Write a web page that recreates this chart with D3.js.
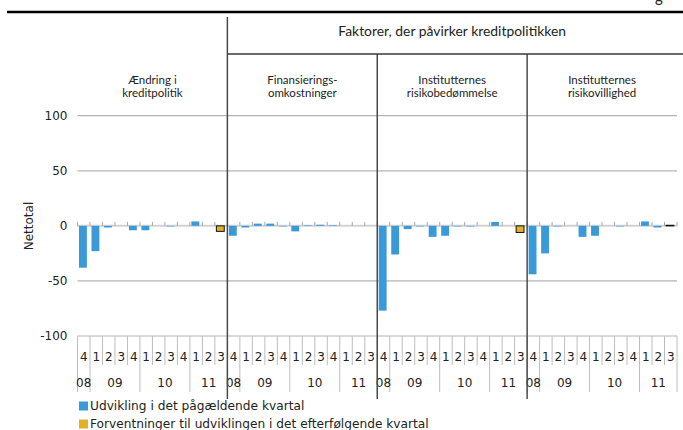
<!DOCTYPE html>
<html>
<head>
<meta charset="utf-8">
<script src="https://cdn.jsdelivr.net/npm/d3@7"></script>
<style>
  html, body { margin: 0; padding: 0; background: #fff; }
  svg { display: block; }
</style>
</head>
<body>
<div id="chart"></div>
<script>
// ---------------- DATA ----------------
const panelTitles = [
  ["Ændring i", "kreditpolitik"],
  ["Finansierings-", "omkostninger"],
  ["Institutternes", "risikobedømmelse"],
  ["Institutternes", "risikovillighed"]
];
const headerTitle = "Faktorer, der påvirker kreditpolitikken";
const quarterLabels = ["4", "1", "2", "3", "4", "1", "2", "3", "4", "1", "2", "3"];
const yearLabels = ["08", "09", "10", "11"];
const yearStart = [0, 1, 5, 9];     // index of first quarter of each year within a panel
const yearLength = [1, 4, 4, 3];
const yTicks = [100, 50, 0, -50, -100];
const seriesNames = ["Udvikling i det pågældende kvartal", "Forventninger til udviklingen i det efterfølgende kvartal"];

// Udvikling i det pågældende kvartal (4. kv. 08 – 3. kv. 11), one array per panel
const actual1 = [-38, -23, -1.5, 0, -4, -4, 0, -0.5, 0, 4, 0, null];
const actual2 = [-9, -1.5, 2, 2, -0.5, -5, 0.5, 1, 0.5, 0, 0, null];
const actual3 = [-77, -26, -3, -0.5, -10, -9, -0.5, -0.5, 0, 3.5, 0, null];
const actual4 = [-44, -25, -0.5, 0, -10, -9, 0, -0.5, 0, 4, -1.5, null];
// Forventninger (shown in the last quarter slot of each panel)
const expected = [-5, null, -6, 0.5];

// ---------------- LAYOUT ----------------
const W = 683, H = 430;
const blue = "#3A9AD9", gold = "#E2B12A";
const sans = "'DejaVu Sans', Verdana, sans-serif";
const human = "Lato, 'Open Sans', sans-serif";

const svg = d3.select("#chart").append("svg").attr("width", W).attr("height", H);

const nQ = quarterLabels.length;
const nAll = panelTitles.length * nQ;
const x = d3.scaleBand().domain(d3.range(nAll)).range([77.5, 677]).paddingInner(0).paddingOuter(0);
const bw = x.bandwidth();
const y = d3.scaleLinear().domain([-100, 100]).range([336, 115.7]);
const xEnd = x.range()[1];

// gridlines
svg.append("g").selectAll("line").data(yTicks.filter(d => d !== 0)).join("line")
  .attr("x1", x.range()[0]).attr("x2", xEnd)
  .attr("y1", d => y(d)).attr("y2", d => y(d))
  .attr("stroke", "#b4b4b4").attr("stroke-width", 1.2);

// y axis labels
const yAxis = d3.axisLeft(y).tickValues(yTicks).tickSize(0).tickPadding(10).tickFormat(d => String(d));
const gy = svg.append("g").attr("transform", `translate(${x.range()[0]},0)`).call(yAxis);
gy.select(".domain").remove();
gy.selectAll("text").attr("font-family", sans).attr("font-size", 12).attr("fill", "#222");

// y title
svg.append("text").attr("transform", `translate(33,226) rotate(-90)`)
  .attr("text-anchor", "middle").attr("font-family", sans).attr("font-size", 12).attr("fill", "#222")
  .text("Nettotal");

// flatten data
const actualAll = [actual1, actual2, actual3, actual4].flat();
const expectedAll = [];
expected.forEach((v, p) => { for (let i = 0; i < nQ; i++) expectedAll.push(i === nQ - 1 ? v : null); });

// zero axis
svg.append("line").attr("x1", x.range()[0]).attr("x2", xEnd).attr("y1", y(0)).attr("y2", y(0))
  .attr("stroke", "#d2d2d2").attr("stroke-width", 2);
svg.append("g").selectAll("line").data(d3.range(nAll + 1)).join("line")
  .attr("x1", i => i < nAll ? x(i) : xEnd).attr("x2", i => i < nAll ? x(i) : xEnd)
  .attr("y1", y(0) - 4).attr("y2", y(0))
  .attr("stroke", "#a8a8a8").attr("stroke-width", 1);

// bars
const barOff = bw * 0.12, barW = bw * 0.63;
svg.append("g").selectAll("rect").data(actualAll.map((v, i) => ({ v, i })).filter(d => d.v !== null && d.v !== 0)).join("rect")
  .attr("x", d => x(d.i) + barOff).attr("width", barW)
  .attr("y", d => Math.min(y(0), y(d.v))).attr("height", d => Math.abs(y(d.v) - y(0)))
  .attr("fill", blue);
svg.append("g").selectAll("rect").data(expectedAll.map((v, i) => ({ v, i })).filter(d => d.v !== null)).join("rect")
  .attr("x", d => x(d.i) + barOff).attr("width", barW)
  .attr("y", d => Math.min(y(0), y(d.v))).attr("height", d => Math.abs(y(d.v) - y(0)))
  .attr("fill", gold).attr("stroke", "#111").attr("stroke-width", 1);

// category table lines
const tableTop = y(-100);
const boundaries = d3.range(nAll + 1);
svg.append("g").selectAll("line").data(boundaries).join("line")
  .attr("x1", i => i < nAll ? x(i) : xEnd).attr("x2", i => i < nAll ? x(i) : xEnd)
  .attr("y1", tableTop)
  .attr("y2", i => (yearStart.includes(i % nQ) || i === nAll) ? 392 : 365)
  .attr("stroke", "#bdbdbd").attr("stroke-width", 1);

// quarter labels
svg.append("g").selectAll("text").data(d3.range(nAll)).join("text")
  .attr("x", i => x(i) + bw / 2).attr("y", 360.5)
  .attr("text-anchor", "middle").attr("font-family", sans).attr("font-size", 12).attr("fill", "#222")
  .text(i => quarterLabels[i % nQ]);

// year labels
const yearItems = [];
for (let p = 0; p < panelTitles.length; p++)
  yearLabels.forEach((lab, k) => yearItems.push({ lab, s: p * nQ + yearStart[k], n: yearLength[k] }));
svg.append("g").selectAll("text").data(yearItems).join("text")
  .attr("x", d => x(d.s) + bw * d.n / 2).attr("y", 386.5)
  .attr("text-anchor", "middle").attr("font-family", sans).attr("font-size", 12).attr("fill", "#222")
  .text(d => d.lab);

// panel separators
for (let p = 1; p < panelTitles.length; p++) {
  const xp = x(p * nQ);
  svg.append("line").attr("x1", xp).attr("x2", xp).attr("y1", p === 1 ? 17 : 54).attr("y2", 399)
    .attr("stroke", "#4a4a4a").attr("stroke-width", 1.5);
}
// header line & top rule
svg.append("line").attr("x1", x(nQ)).attr("x2", W).attr("y1", 54).attr("y2", 54)
  .attr("stroke", "#3a3a3a").attr("stroke-width", 1.3);
svg.append("line").attr("x1", 7).attr("x2", W).attr("y1", 12).attr("y2", 12)
  .attr("stroke", "#000").attr("stroke-width", 2.5);
svg.append("text").attr("x", 655).attr("y", 2).attr("font-family", human).attr("font-size", 15)
  .attr("fill", "#222").text("g");

// header
svg.append("text").attr("x", (x(nQ) + xEnd) / 2).attr("y", 36)
  .attr("text-anchor", "middle").attr("font-family", human).attr("font-size", 13.9).attr("fill", "#222")
  .text(headerTitle);

// panel titles
panelTitles.forEach((lines, p) => {
  const cx = x(p * nQ) + bw * nQ / 2;
  const t = svg.append("text").attr("text-anchor", "middle").attr("font-family", human)
    .attr("font-size", 11.5).attr("fill", "#222");
  lines.forEach((ln, k) => t.append("tspan").attr("x", cx).attr("y", 83.5 + k * 13).text(ln));
});

// legend
const leg = svg.append("g");
[blue, gold].forEach((c, k) => {
  leg.append("rect").attr("x", 79).attr("y", 401.5 + k * 18).attr("width", 9).attr("height", 9).attr("fill", c);
  leg.append("text").attr("x", 90).attr("y", 410 + k * 17.5).attr("font-family", sans).attr("font-size", 12.2)
    .attr("fill", "#222").text(seriesNames[k]);
});
</script>
</body>
</html>
